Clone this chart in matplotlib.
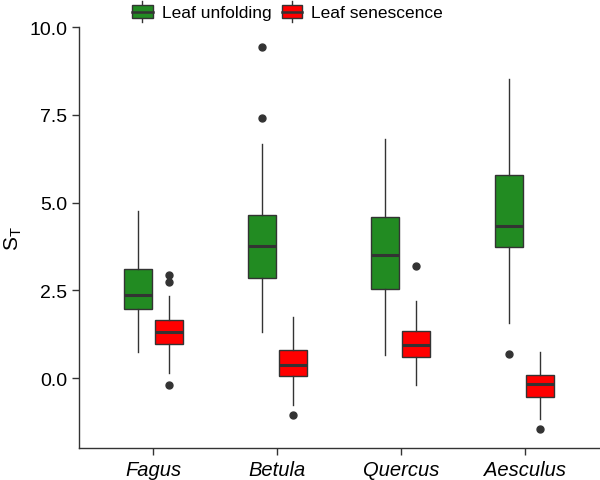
import matplotlib
matplotlib.use("Agg")
import matplotlib.pyplot as plt
from matplotlib.patches import Patch, Rectangle
from matplotlib.lines import Line2D
from matplotlib.legend_handler import HandlerBase

plt.rcParams['font.family'] = ['Liberation Sans', 'DejaVu Sans']
plt.rcParams['mathtext.fontset'] = 'custom'
plt.rcParams['mathtext.rm'] = 'Liberation Sans'
plt.rcParams['mathtext.it'] = 'Liberation Sans:italic'

species = ["Fagus", "Betula", "Quercus", "Aesculus"]

# whisker low, q1, median, q3, whisker high, outliers
unfold_whislo = [0.75, 1.30, 0.65, 1.58]
unfold_q1 = [1.98, 2.86, 2.54, 3.73]
unfold_med = [2.36, 3.76, 3.50, 4.33]
unfold_q3 = [3.10, 4.64, 4.60, 5.78]
unfold_whishi = [4.75, 6.67, 6.82, 8.51]
unfold_fliers = [[], [9.44, 7.41], [], [0.69]]

senes_whislo = [0.14, -0.77, -0.19, -1.16]
senes_q1 = [0.96, 0.05, 0.61, -0.53]
senes_med = [1.32, 0.37, 0.93, -0.17]
senes_q3 = [1.65, 0.80, 1.34, 0.09]
senes_whishi = [2.34, 1.75, 2.20, 0.73]
senes_fliers = [[2.95, 2.75, -0.19], [-1.05], [3.19], [-1.45]]

green = "#228B22"
red = "#FF0000"
edge = "#333333"


def make_stats(lo, q1, med, q3, hi, fl):
    out = []
    for i in range(len(lo)):
        out.append({"whislo": lo[i], "q1": q1[i], "med": med[i],
                    "q3": q3[i], "whishi": hi[i], "fliers": fl[i]})
    return out


class BoxKey(HandlerBase):
    # little boxplot glyph like ggplot's legend key
    def create_artists(self, legend, orig_handle, xdescent, ydescent,
                       width, height, fontsize, trans):
        cx = width / 2 - xdescent
        y0 = -ydescent
        vline = Line2D([cx, cx], [y0 - 0.05 * height, y0 + 1.05 * height],
                       color=edge, lw=1.0, transform=trans)
        box = Rectangle((-xdescent, y0 + 0.15 * height), width, 0.7 * height,
                        facecolor=orig_handle.get_facecolor(), edgecolor=edge,
                        lw=1.0, transform=trans)
        mid = Line2D([-xdescent, -xdescent + width], [y0 + 0.5 * height] * 2,
                     color=edge, lw=1.8, transform=trans)
        return [vline, box, mid]


fig = plt.figure(figsize=(6.0, 4.81), dpi=100)
ax = fig.add_axes([79 / 600, 1 - 449 / 481, 520 / 600, 421 / 481])

pos = list(range(1, len(species) + 1))
off = 0.125
w = 0.226

for stats, shift, col in [
    (make_stats(unfold_whislo, unfold_q1, unfold_med, unfold_q3, unfold_whishi, unfold_fliers), -off, green),
    (make_stats(senes_whislo, senes_q1, senes_med, senes_q3, senes_whishi, senes_fliers), off, red),
]:
    ax.bxp(stats, positions=[p + shift for p in pos], widths=w,
           patch_artist=True, showcaps=False,
           boxprops=dict(facecolor=col, edgecolor=edge, linewidth=1.0),
           medianprops=dict(color=edge, linewidth=2.2),
           whiskerprops=dict(color=edge, linewidth=1.0),
           flierprops=dict(marker="o", markerfacecolor=edge, markeredgecolor=edge,
                           markersize=5))

ax.set_xlim(0.4, 4.6)
ax.set_ylim(-1.99, 9.98)
ax.set_xticks(pos)
ax.set_xticklabels(species, style="italic", fontsize=14.5, color="black")
ax.set_yticks([0.0, 2.5, 5.0, 7.5, 10.0])
ax.set_yticklabels(["0.0", "2.5", "5.0", "7.5", "10.0"], fontsize=14, color="black")
ax.set_ylabel(r"$\mathrm{S_T}$", fontsize=15, labelpad=4)

for s in ["top", "right"]:
    ax.spines[s].set_visible(False)
for s in ["left", "bottom"]:
    ax.spines[s].set_color(edge)
    ax.spines[s].set_linewidth(1.0)
ax.tick_params(colors=edge, length=5, width=1.0, labelcolor="black")

handles = [Patch(facecolor=green, edgecolor=edge, label="Leaf unfolding"),
           Patch(facecolor=red, edgecolor=edge, label="Leaf senescence")]
fig.legend(handles=handles, loc="center", bbox_to_anchor=(0.479, 0.974), ncol=2,
           frameon=False, fontsize=12.5, handlelength=1.2, handleheight=1.3,
           handletextpad=0.5, columnspacing=0.6,
           handler_map={Patch: BoxKey()})

fig.savefig("out.png", dpi=100)
